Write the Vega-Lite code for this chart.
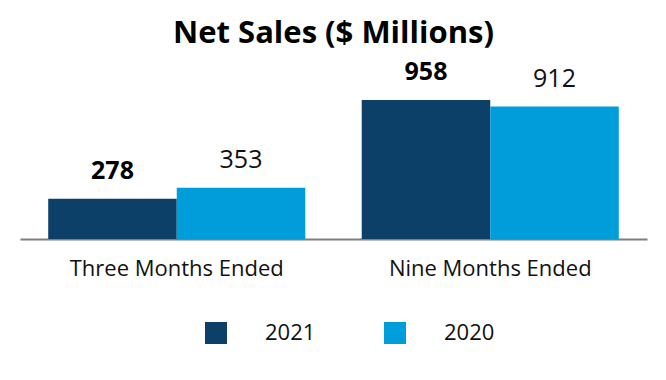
{
  "$schema": "https://vega.github.io/schema/vega-lite/v6.json",
  "width": 627,
  "height": 179,
  "autosize": {"type": "none"},
  "padding": {"left": 20, "top": 60, "right": 19, "bottom": 141},
  "title": {
    "text": "Net Sales ($ Millions)",
    "font": "Open Sans",
    "fontSize": 31,
    "fontWeight": "bold",
    "color": "#000000",
    "anchor": "middle",
    "frame": "group",
    "offset": 10
  },
  "data": {
    "values": [
      {"period": "Three Months Ended", "year": "2021", "sales": 278},
      {"period": "Three Months Ended", "year": "2020", "sales": 353},
      {"period": "Nine Months Ended", "year": "2021", "sales": 958},
      {"period": "Nine Months Ended", "year": "2020", "sales": 912}
    ]
  },
  "encoding": {
    "x": {
      "field": "period",
      "type": "nominal",
      "sort": ["Three Months Ended", "Nine Months Ended"],
      "scale": {"paddingInner": 0.18, "paddingOuter": 0.09},
      "axis": {
        "title": null,
        "labelAngle": 0,
        "labelLimit": 0,
        "ticks": false,
        "tickSize": 0,
        "labelPadding": 19,
        "labelFont": "Open Sans",
        "labelFontSize": 22,
        "labelColor": "#111111",
        "domainColor": "#7f7f7f",
        "domainWidth": 2
      }
    },
    "xOffset": {
      "field": "year",
      "type": "nominal",
      "sort": ["2021", "2020"],
      "scale": {"paddingInner": 0, "paddingOuter": 0}
    },
    "y": {
      "field": "sales",
      "type": "quantitative",
      "scale": {"domain": [0, 1233]},
      "axis": null
    }
  },
  "layer": [
    {
      "mark": {"type": "bar"},
      "encoding": {
        "color": {
          "field": "year",
          "type": "nominal",
          "scale": {"domain": ["2021", "2020"], "range": ["#0d4068", "#009ddb"]},
          "legend": {
            "title": null,
            "orient": "none",
            "legendX": 185,
            "legendY": 262,
            "direction": "horizontal",
            "symbolType": "square",
            "symbolSize": 484,
            "symbolStrokeWidth": 0,
            "symbolOpacity": 1,
            "labelOffset": 38,
            "columnPadding": 68,
            "labelFont": "Open Sans",
            "labelFontSize": 22,
            "labelColor": "#111111",
            "padding": 0
          }
        }
      }
    },
    {
      "transform": [{"filter": "datum.year == '2021'"}],
      "mark": {
        "type": "text",
        "dy": -20,
        "baseline": "alphabetic",
        "font": "Open Sans",
        "fontSize": 25,
        "fontWeight": "bold",
        "color": "#000000"
      },
      "encoding": {"text": {"field": "sales", "type": "quantitative"}}
    },
    {
      "transform": [{"filter": "datum.year == '2020'"}],
      "mark": {
        "type": "text",
        "dy": -20,
        "baseline": "alphabetic",
        "font": "Open Sans",
        "fontSize": 25,
        "fontWeight": "normal",
        "color": "#111111"
      },
      "encoding": {"text": {"field": "sales", "type": "quantitative"}}
    }
  ],
  "config": {"view": {"stroke": null}}
}
